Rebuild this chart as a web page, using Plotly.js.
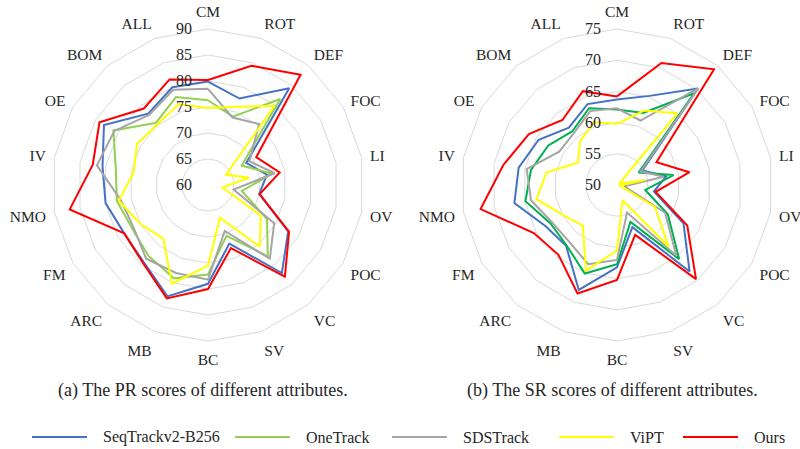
<!DOCTYPE html>
<html>
<head>
<meta charset="utf-8">
<script src="https://cdn.plot.ly/plotly-3.0.1.min.js"></script>
<style>html,body{margin:0;padding:0;background:#fff;}#chart{width:800px;height:449px;}</style>
</head>
<body>
<div id="chart"></div>
<script>
var categories = ["CM","ROT","DEF","FOC","LI","OV","POC","VC","SV","BC","MB","ARC","FM","NMO","IV","OE","BOM","ALL"];
var seriesNames = ["SeqTrackv2-B256","OneTrack","SDSTrack","ViPT","Ours"];

// (a) PR scores
var prSeqTrack = [79.9,77.7,84.3,68.5,71.5,70.0,77.8,82.1,72.0,79.0,82.8,79.3,78.6,80.0,80.6,83.1,77.9,80.0];
var prOneTrack = [76.3,74.0,81.6,67.5,72.5,66.6,73.1,77.9,70.4,77.2,79.1,77.8,76.8,77.8,78.0,81.0,75.6,78.0];
var prSDSTrack = [78.5,73.8,75.3,69.2,73.0,65.0,74.7,78.5,69.4,78.2,78.0,78.5,76.5,77.0,81.7,80.8,77.6,79.5];
var prViPT     = [74.8,76.0,79.9,64.0,68.0,62.8,71.7,75.5,66.7,75.5,80.2,73.4,75.0,77.4,74.5,75.8,75.2,76.5];
var prOurs     = [80.2,84.4,87.7,70.7,74.0,70.1,78.0,83.0,72.9,80.0,83.2,79.5,78.6,87.0,82.5,84.1,79.2,81.6];

// (b) SR scores
var srSeqTrack = [63.7,65.2,70.2,54.7,58.0,56.0,62.3,68.1,57.2,63.2,67.9,62.7,63.2,66.7,66.0,64.5,62.0,63.8];
var srOneTrack = [62.1,62.3,69.2,54.0,59.2,54.6,59.4,65.5,56.3,62.7,65.1,62.6,62.3,64.9,64.0,62.7,61.2,63.1];
var srSDSTrack = [62.3,61.0,70.2,54.4,57.6,51.2,58.9,64.8,54.7,62.0,63.5,61.9,62.0,64.0,64.7,60.7,60.8,62.6];
var srViPT     = [59.8,62.7,65.0,50.4,54.6,50.4,57.0,62.9,52.6,60.5,64.6,58.5,59.8,63.1,61.5,57.2,59.2,60.7];
var srOurs     = [64.2,70.8,74.2,57.3,61.8,56.3,63.0,69.7,58.5,65.2,68.5,64.6,65.4,72.2,68.5,66.3,63.6,66.0];

var prTicks = [60,65,70,75,80,85,90];
var srTicks = [50,55,60,65,70,75];

var colorsA = ["#4472c4","#92d050","#a5a5a5","#ffff00","#ff0000"];
var colorsB = ["#4472c4","#00b050","#a5a5a5","#ffff00","#ff0000"];

function closeLoop(a){ return a.concat([a[0]]); }

var traces = [];
var prData = [prSeqTrack, prOneTrack, prSDSTrack, prViPT, prOurs];
var srData = [srSeqTrack, srOneTrack, srSDSTrack, srViPT, srOurs];
for (var i = 0; i < 5; i++) {
  traces.push({type:"scatterpolar", subplot:"polar", mode:"lines", name:seriesNames[i],
    theta: closeLoop(categories), r: closeLoop(prData[i]),
    line:{color:colorsA[i], width:2}, showlegend:false, hoverinfo:"skip"});
}
for (var j = 0; j < 5; j++) {
  traces.push({type:"scatterpolar", subplot:"polar2", mode:"lines", name:seriesNames[j],
    theta: closeLoop(categories), r: closeLoop(srData[j]),
    line:{color:colorsB[j], width:2}, showlegend:false, hoverinfo:"skip"});
}

var fontFam = "Liberation Serif, Times New Roman, serif";
function polarCfg(xd, ticks){
  return {
    domain:{x:xd, y:[0.2405, 0.9354]},
    bgcolor:"rgba(0,0,0,0)",
    gridshape:"linear",
    radialaxis:{range:[ticks[0], ticks[ticks.length-1]], tickvals:ticks, ticktext:ticks.map(String),
      angle:90, side:"counterclockwise", tickangle:90, showline:false,
      ticks:"outside", ticklen:10, tickcolor:"rgba(0,0,0,0)",
      gridcolor:"#d9d9d9", gridwidth:1,
      tickfont:{family:fontFam, size:16, color:"#262626"}},
    angularaxis:{type:"category", categoryarray:categories, direction:"clockwise", rotation:90,
      showgrid:false, showline:true, linecolor:"#d9d9d9", linewidth:1,
      ticks:"outside", ticklen:5, tickcolor:"rgba(0,0,0,0)",
      tickfont:{family:fontFam, size:15.5, color:"#262626"}}
  };
}

// legend built from series names and colours
var legendLineX = [32, 235, 392, 559, 683];
var shapes = [], annotations = [];
for (var k = 0; k < 5; k++) {
  shapes.push({type:"line", xref:"paper", yref:"paper",
    x0:legendLineX[k]/800, x1:(legendLineX[k]+55)/800, y0:12/449, y1:12/449,
    line:{color:colorsA[k], width:2}});
  annotations.push({xref:"paper", yref:"paper", x:(legendLineX[k]+69)/800, y:12/449,
    xanchor:"left", yanchor:"middle", showarrow:false, text:seriesNames[k],
    font:{family:fontFam, size:16, color:"#262626"}});
}
annotations.push({xref:"paper", yref:"paper", x:203/800, y:(449-390)/449, xanchor:"center", yanchor:"middle",
  showarrow:false, text:"(a) The PR scores of different attributes.", font:{family:fontFam, size:18, color:"#262626"}});
annotations.push({xref:"paper", yref:"paper", x:612/800, y:(449-390)/449, xanchor:"center", yanchor:"middle",
  showarrow:false, text:"(b) The SR scores of different attributes.", font:{family:fontFam, size:18, color:"#262626"}});

var layout = {
  width:800, height:449,
  margin:{l:0, r:0, t:0, b:0},
  paper_bgcolor:"#ffffff",
  showlegend:false,
  polar: polarCfg([0.065, 0.455], prTicks),
  polar2: polarCfg([0.57625, 0.96625], srTicks),
  shapes: shapes,
  annotations: annotations
};

Plotly.newPlot("chart", traces, layout, {staticPlot:true, displayModeBar:false});
</script>
</body>
</html>
